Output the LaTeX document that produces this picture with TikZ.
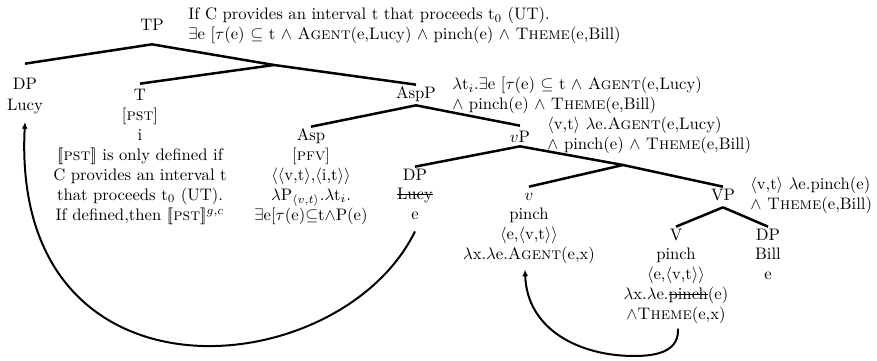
\documentclass[tikz,border=0pt]{standalone}
\usetikzlibrary{calc,arrows.meta}
\newsavebox\strkbox
\newcommand\strk[1]{\sbox\strkbox{#1}\rlap{\rule[0.55ex]{\wd\strkbox}{0.8pt}}\usebox\strkbox}
\newcommand\dlb{\ensuremath{[\![}}
\newcommand\drb{\ensuremath{]\!]}}
\begin{document}
\begin{tikzpicture}[x=0.6pt,y=-0.6pt,
  every node/.append style={font=\fontsize{10pt}{12pt}\selectfont},
  cat/.style={inner sep=0pt, anchor=base, execute at begin node=\strut},
  body/.style={inner sep=0pt, anchor=north, align=center, execute at begin node=\strut},
  ann/.style={inner sep=0pt, anchor=north west, align=left, execute at begin node=\strut},
  branch/.style={line width=1.5pt},
  move/.style={line width=1.2pt, -{Latex[length=4pt,width=3.5pt]}}]
\useasboundingbox (0,0) rectangle (877,361);
% nodes
\node[cat] (TP) at (152,31) {TP};
\node[ann] (TPann) at (188,7) {If C provides an interval t that proceeds t$_0$ (UT).\\
  $\exists$e [$\tau$(e) $\subseteq$ t $\wedge$ \textsc{Agent}(e,Lucy) $\wedge$ pinch(e) $\wedge$ \textsc{Theme}(e,Bill)};
\node[cat] (DPa) at (25,90) {DP};
\node[body] (DPaB) at (DPa.south) {Lucy};
\node[cat] (T) at (140,101) {T};
\node[body] (TB) at (T.south) {[\textsc{pst}]\\ i\\
  \dlb\textsc{pst}\drb{} is only defined if\\
  C provides an interval t\\
  that proceeds t$_0$ (UT).\\
  If defined,then \dlb\textsc{pst}\drb$^{g,c}$};
\node[cat] (AspP) at (416,99) {AspP};
\node[ann] (AspPann) at (452,77) {$\lambda$t$_i$.$\exists$e [$\tau$(e) $\subseteq$ t $\wedge$ \textsc{Agent}(e,Lucy)\\
  $\wedge$ pinch(e) $\wedge$ \textsc{Theme}(e,Bill)};
\node[cat] (Asp) at (311,141) {Asp};
\node[body] (AspB) at (Asp.south) {[\textsc{pfv}]\\
  $\langle\langle$v,t$\rangle$,$\langle$i,t$\rangle\rangle$\\
  $\lambda$P$_{\langle v,t\rangle}$.$\lambda$t$_i$.\\
  $\exists$e[$\tau$(e)$\subseteq$t$\wedge$P(e)};
\node[cat] (vP) at (520,143) {$v$P};
\node[ann] (vPann) at (547,117) {$\langle$v,t$\rangle$ $\lambda$e.\textsc{Agent}(e,Lucy)\\
  $\wedge$ pinch(e) $\wedge$ \textsc{Theme}(e,Bill)};
\node[cat] (DPb) at (415,181) {DP};
\node[body] (DPbB) at (DPb.south) {\strk{Lucy}\\ e};
\node[cat] (v) at (529,201) {$v$};
\node[body] (vB) at (v.south) {pinch\\
  $\langle$e,$\langle$v,t$\rangle\rangle$\\
  $\lambda$x.$\lambda$e.\textsc{Agent}(e,x)};
\node[cat] (VP) at (723,201) {VP};
\node[ann] (VPann) at (750,177) {$\langle$v,t$\rangle$ $\lambda$e.pinch(e)\\
  $\wedge$ \textsc{Theme}(e,Bill)};
\node[cat] (V) at (676,241) {V};
\node[body] (VB) at (V.south) {pinch\\
  $\langle$e,$\langle$v,t$\rangle\rangle$\\
  $\lambda$x.$\lambda$e.\strk{pinch}(e)\\
  $\wedge$\textsc{Theme}(e,x)};
\node[cat] (DPc) at (768,241) {DP};
\node[body] (DPcB) at (DPc.south) {Bill\\ e};
% unlabeled branching points
\coordinate (Tbar) at (274,65);
\coordinate (vbar) at (623,165);
\coordinate (TPb) at ($(TP.south)+(0,7)$);
% branches
\draw[branch] (TPb) -- ($(DPa.north)+(0,-12)$);
\draw[branch] (TPb) -- (Tbar) -- (AspP.north);
\draw[branch] (Tbar) -- ($(T.north)+(0,-3)$);
\draw[branch] (AspP.south) -- (Asp.north);
\draw[branch] (AspP.south) -- ($(vP.north)+(0,-3)$);
\draw[branch] ($(vP.south)+(0,-3)$) -- (DPb.north);
\draw[branch] ($(vP.south)+(0,-3)$) -- (vbar) -- (VP.north);
\draw[branch] (vbar) -- (v.north);
\draw[branch] (VP.south) -- (V.north);
\draw[branch] (VP.south) -- (DPc.north);
% movement arrows
\coordinate (eStart) at ($(DPbB.south)+(0,6)$);
\coordinate (lucyEnd) at ($(DPaB.south)+(0,5)$);
\draw[move] (eStart) .. controls (340,385) and (10,415) .. (lucyEnd);
\coordinate (thStart) at ($(VB.south)+(2,3)$);
\coordinate (agEnd) at ($(vB.south)+(-4,4)$);
\draw[move] (thStart) .. controls (679,350) and (660,356) .. (634,356)
  .. controls (580,356) and (527,330) .. (agEnd);
\end{tikzpicture}
\end{document}
